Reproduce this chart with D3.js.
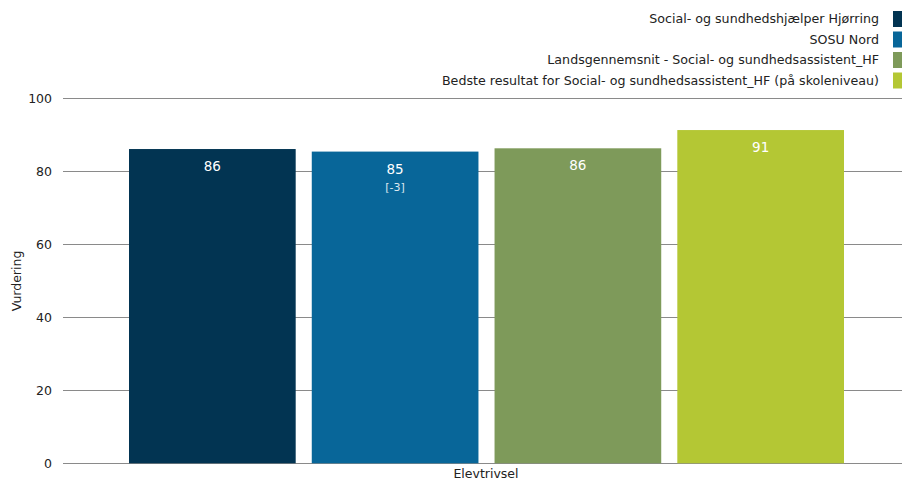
<!DOCTYPE html>
<html><head><meta charset="utf-8">
<script src="https://cdn.jsdelivr.net/npm/d3@7"></script>
<style>body{margin:0;background:#fff}svg{display:block}text{font-family:"DejaVu Sans",sans-serif}</style>
</head><body><svg id="c" width="902" height="482"></svg>
<script>
const category = "Elevtrivsel";
const seriesNames = ["Social- og sundhedshjælper Hjørring","SOSU Nord","Landsgennemsnit - Social- og sundhedsassistent_HF","Bedste resultat for Social- og sundhedsassistent_HF (på skoleniveau)"];
const seriesValues = [86.1, 85.4, 86.3, 91.3];
const seriesLabels = ["86","85","86","91"];
const seriesSubLabels = ["","[-3]","",""];
const seriesColors = ["#023452","#086699","#7e9a5a","#b4c734"];
const yTicks = [0,20,40,60,80,100];

const svg = d3.select("#c");
const m = {l:63, r:1, t:98, b:19};
const W = 902, H = 482;
const y = d3.scaleLinear().domain([0,100]).range([463.3, 98.3]);
const x1 = d3.scaleBand().domain(seriesNames).range([129, 844]).paddingInner(0.088).paddingOuter(0);

// gridlines
svg.append("g").selectAll("line").data(yTicks).join("line")
  .attr("x1", m.l).attr("x2", W).attr("y1", d=>Math.round(y(d))+0.5).attr("y2", d=>Math.round(y(d))+0.5)
  .attr("stroke","#8a8a8a").attr("stroke-width",1);
svg.append("g").selectAll("text").data(yTicks).join("text")
  .attr("x", 52).attr("y", d=>y(d)).attr("dy","0.35em").attr("text-anchor","end")
  .attr("font-size",12.5).attr("fill","#222").text(d=>d);

// bars
const bars = svg.append("g").selectAll("g").data(seriesNames).join("g");
bars.append("rect")
  .attr("x", d=>x1(d)).attr("width", x1.bandwidth())
  .attr("y", (d,i)=>y(seriesValues[i])).attr("height",(d,i)=>y(0)-y(seriesValues[i]))
  .attr("fill",(d,i)=>seriesColors[i]);
bars.append("text")
  .attr("x", d=>x1(d)+x1.bandwidth()/2).attr("y",(d,i)=>y(seriesValues[i])+22)
  .attr("text-anchor","middle").attr("font-size",13.5).attr("fill","#fff").text((d,i)=>seriesLabels[i]);
bars.append("text")
  .attr("x", d=>x1(d)+x1.bandwidth()/2).attr("y",(d,i)=>y(seriesValues[i])+39)
  .attr("text-anchor","middle").attr("font-size",11).attr("fill","#dde8f0").text((d,i)=>seriesSubLabels[i]);

// x label
svg.append("text").attr("x", 486).attr("y", 478).attr("text-anchor","middle")
  .attr("font-size",12.5).attr("fill","#222").text(category);

// y title
svg.append("text").attr("transform","translate(21,281) rotate(-90)").attr("text-anchor","middle")
  .attr("font-size",12.5).attr("fill","#222").text("Vurdering");

// legend
const lg = svg.append("g").selectAll("g").data(seriesNames).join("g")
  .attr("transform",(d,i)=>`translate(0,${19 + i*20.5})`);
lg.append("rect").attr("x",893).attr("y",-8).attr("width",10).attr("height",16).attr("fill",(d,i)=>seriesColors[i]);
lg.append("text").attr("x",879).attr("y",0).attr("dy","0.35em").attr("text-anchor","end")
  .attr("font-size",12.65).attr("fill","#222").text(d=>d);
</script></body></html>
